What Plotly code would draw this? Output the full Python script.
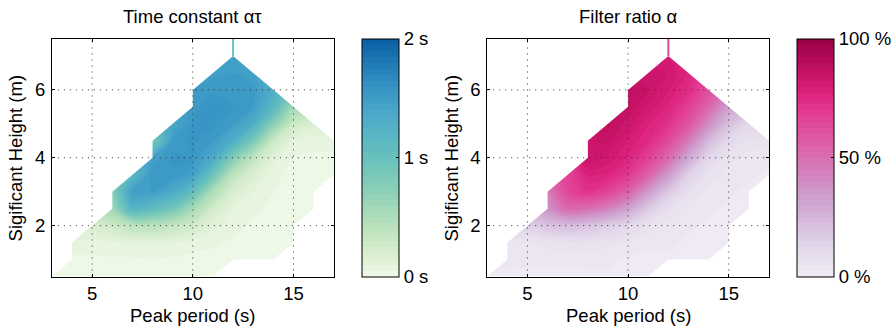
import plotly.graph_objects as go

# ---------------- data ----------------
TP = [3, 4, 5, 6, 7, 8, 9, 10, 11, 12, 13, 14, 15, 16, 17]          # Peak period (s)
HS = [0.5, 1.0, 1.5, 2.0, 2.5, 3.0, 3.5, 4.0, 4.5, 5.0, 5.5, 6.0, 6.5, 7.0, 7.5]  # Hs (m)
N = None

# Time constant alpha*tau (s); rows = HS, columns = TP
TAU = [
    [0.03, 0.03, 0.03, 0.03, 0.03, 0.03, 0.03, 0.03, 0.03, N, N, N, N, N, N],
    [N, 0.04, 0.04, 0.04, 0.04, 0.04, 0.04, 0.03, 0.03, 0.03, 0.03, 0.03, N, N, N],
    [N, 0.08, 0.08, 0.09, 0.11, 0.11, 0.10, 0.08, 0.06, 0.04, 0.03, 0.03, 0.03, N, N],
    [N, N, 0.20, 0.30, 0.40, 0.42, 0.35, 0.25, 0.12, 0.07, 0.04, 0.03, 0.03, N, N],
    [N, N, N, 0.60, 1.20, 1.08, 0.90, 0.55, 0.25, 0.10, 0.06, 0.04, 0.03, 0.03, N],
    [N, N, N, 0.75, 1.48, 1.50, 1.35, 1.05, 0.50, 0.20, 0.10, 0.05, 0.04, 0.03, N],
    [N, N, N, N, 1.15, 1.55, 1.54, 1.45, 0.95, 0.40, 0.18, 0.06, 0.04, 0.04, 0.03],
    [N, N, N, N, N, 1.45, 1.56, 1.55, 1.35, 0.80, 0.38, 0.12, 0.05, 0.04, 0.04],
    [N, N, N, N, N, 0.85, 1.52, 1.56, 1.52, 1.30, 0.85, 0.30, 0.10, 0.07, 0.07],
    [N, N, N, N, N, N, 1.40, 1.56, 1.56, 1.50, 1.30, 0.75, 0.30, 0.18, N],
    [N, N, N, N, N, N, N, 1.53, 1.58, 1.55, 1.50, 1.15, 0.60, N, N],
    [N, N, N, N, N, N, N, 1.50, 1.54, 1.55, 1.52, 1.30, N, N, N],
    [N, N, N, N, N, N, N, N, 1.48, 1.50, 1.45, N, N, N, N],
    [N, N, N, N, N, N, N, N, N, 1.44, N, N, N, N, N],
    [N, N, N, N, N, N, N, N, N, 0.55, N, N, N, N, N],
]

# Filter ratio alpha (%)
ALPHA = [
    [2, 2, 2, 2, 2, 2, 2, 2, 2, N, N, N, N, N, N],
    [N, 3, 3, 3, 3, 3, 3, 2, 2, 2, 2, 2, N, N, N],
    [N, 5, 5, 6, 7, 7, 6, 4, 3, 3, 2, 2, 2, N, N],
    [N, N, 15, 20, 22, 20, 16, 12, 7, 4, 3, 2, 2, N, N],
    [N, N, N, 38, 52, 50, 43, 32, 17, 8, 4, 3, 2, 2, N],
    [N, N, N, 45, 65, 72, 66, 55, 35, 18, 8, 4, 3, 2, N],
    [N, N, N, N, 66, 78, 77, 70, 55, 35, 15, 7, 4, 3, 2],
    [N, N, N, N, N, 85, 82, 77, 67, 52, 30, 12, 6, 4, 3],
    [N, N, N, N, N, 84, 86, 80, 75, 64, 46, 24, 11, 7, 6],
    [N, N, N, N, N, N, 88, 84, 78, 72, 60, 40, 21, 12, N],
    [N, N, N, N, N, N, N, 87, 82, 77, 68, 53, 33, N, N],
    [N, N, N, N, N, N, N, 88, 85, 80, 74, 62, N, N, N],
    [N, N, N, N, N, N, N, N, 85, 82, 77, N, N, N, N],
    [N, N, N, N, N, N, N, N, N, 81, N, N, N, N, N],
    [N, N, N, N, N, N, N, N, N, 45, N, N, N, N, N],
]

X_TICKS = [5, 10, 15]
Y_TICKS = [2, 4, 6]
TAU_CB_VALS = [0, 1, 2]
TAU_CB_TEXT = ["0 s", "1 s", "2 s"]
ALPHA_CB_VALS = [0, 50, 100]
ALPHA_CB_TEXT = ["0 %", "50 %", "100 %"]

TITLES = ["Time constant \u03b1\u03c4", "Filter ratio \u03b1"]
XTITLE = "Peak period (s)"
YTITLE = "Sigificant Height (m)"

# ---------------- styles ----------------
FONT = "Liberation Sans, Arial, Helvetica, sans-serif"
FS = 18.5
W, H = 895, 329
TAU_SCALE = [
    [0.0, "#f0f9e9"], [0.1, "#d8eed0"], [0.2, "#bde3bd"], [0.3, "#a0d7b8"],
    [0.4, "#82ccb9"], [0.5, "#68c0bc"], [0.6, "#58b4c4"], [0.7, "#4aa6c9"],
    [0.8, "#3593c4"], [0.9, "#1f79b3"], [1.0, "#0b5fa5"],
]
ALPHA_SCALE = [
    [0.0, "#f0ecf5"], [0.1, "#e6dcec"], [0.2, "#d9c3e0"], [0.3, "#d0a8d2"],
    [0.4, "#d08cc4"], [0.5, "#d96eb0"], [0.6, "#df54a0"], [0.7, "#e23890"],
    [0.8, "#d81b75"], [0.9, "#b90d5c"], [1.0, "#980043"],
]

def px_x(p):
    return p / W

def px_y(p):
    return 1 - p / H

PANELS = [
    dict(z=TAU, scale=TAU_SCALE, zmax=2.0, cbv=TAU_CB_VALS, cbt=TAU_CB_TEXT,
         xdom=[px_x(52), px_x(334.5)], cbx=px_x(362.5), ax="", ytx=px_x(16)),
    dict(z=ALPHA, scale=ALPHA_SCALE, zmax=100.0, cbv=ALPHA_CB_VALS, cbt=ALPHA_CB_TEXT,
         xdom=[px_x(488.3), px_x(770.7)], cbx=px_x(799), ax="2", ytx=px_x(453)),
]
YDOM = [px_y(276.5), px_y(39)]


def hex_to_rgb(h):
    h = h.lstrip("#")
    return [int(h[i:i + 2], 16) for i in (0, 2, 4)]


def sample(scale, t):
    t = min(max(t, 0), 1)
    for (p0, c0), (p1, c1) in zip(scale[:-1], scale[1:]):
        if p0 <= t <= p1:
            f = (t - p0) / (p1 - p0) if p1 > p0 else 0
            a, b = hex_to_rgb(c0), hex_to_rgb(c1)
            return "rgb(%d,%d,%d)" % tuple(round(a[k] + (b[k] - a[k]) * f) for k in range(3))
    return scale[-1][1]


def column_limits(z):
    lo, hi = [], []
    for j in range(len(TP)):
        vals = [HS[i] for i in range(len(HS)) if z[i][j] is not None]
        lo.append(min(vals))
        hi.append(max(vals))
    return lo, hi


def upper_boundary(hi, step):
    pts = [(TP[0], hi[0])]
    for i in range(len(TP) - 1):
        a, b = hi[i], hi[i + 1]
        if b > a:
            pts += [(TP[i + 1], a + step), (TP[i + 1], b)]
        elif b < a:
            pts += [(TP[i], b + step), (TP[i + 1], b)]
        else:
            pts += [(TP[i + 1], b)]
    return pts


def lower_boundary(lo, step):
    pts = [(TP[0], lo[0])]
    for i in range(len(TP) - 1):
        a, b = lo[i], lo[i + 1]
        if b > a:
            pts += [(TP[i], b - step), (TP[i + 1], b)]
        elif b < a:
            pts += [(TP[i + 1], a - step), (TP[i + 1], b)]
        else:
            pts += [(TP[i + 1], b)]
    return pts


fig = go.Figure()
step = HS[1] - HS[0]
shapes = []
annotations = []

for k, P in enumerate(PANELS):
    xa, ya = "x" + P["ax"], "y" + P["ax"]
    zmax = P["zmax"]
    fig.add_trace(go.Contour(
        x=TP, y=HS, z=P["z"], xaxis=xa, yaxis=ya,
        zmin=0, zmax=zmax, autocontour=False,
        contours=dict(start=0, end=zmax, size=zmax / 40, coloring="fill", showlines=False),
        line=dict(width=0), colorscale=P["scale"], hoverinfo="skip",
        colorbar=dict(
            x=P["cbx"], xanchor="left", xpad=0, ypad=0,
            y=YDOM[0], yanchor="bottom", len=YDOM[1] - YDOM[0], lenmode="fraction",
            thickness=37, thicknessmode="pixels",
            outlinecolor="black", outlinewidth=1,
            tickvals=P["cbv"], ticktext=P["cbt"], ticks="inside", ticklen=3,
            tickcolor="black", tickfont=dict(size=FS, color="black", family=FONT),
        ),
    ))

    lo, hi = column_limits(P["z"])
    up = upper_boundary(hi, step)
    up += [(TP[-1] + 1, hi[-1]), (TP[-1] + 1, HS[-1] + 2), (TP[0] - 1, HS[-1] + 2), (TP[0] - 1, hi[0])]
    dn = lower_boundary(lo, step)
    dn += [(TP[-1] + 1, lo[-1]), (TP[-1] + 1, HS[0] - 2), (TP[0] - 1, HS[0] - 2), (TP[0] - 1, lo[0])]
    for poly in (up, dn):
        fig.add_trace(go.Scatter(
            x=[p[0] for p in poly], y=[p[1] for p in poly], xaxis=xa, yaxis=ya,
            mode="lines", fill="toself", fillcolor="white", line=dict(width=0),
            hoverinfo="skip", showlegend=False,
        ))

    # isolated single-column spikes (degenerate contour patches drawn as a line)
    for j in range(1, len(TP) - 1):
        nb = max(hi[j - 1], hi[j + 1])
        if hi[j] > nb + step:
            y0 = nb + step
            ivals = [P["z"][i][j] for i in range(len(HS)) if y0 <= HS[i] <= hi[j] and P["z"][i][j] is not None]
            col = sample(P["scale"], sum(ivals) / len(ivals) / zmax)
            fig.add_trace(go.Scatter(
                x=[TP[j], TP[j]], y=[y0, hi[j]], xaxis=xa, yaxis=ya, mode="lines",
                line=dict(color=col, width=2), hoverinfo="skip", showlegend=False,
            ))

    # dotted grid on top
    for xv in X_TICKS:
        shapes.append(dict(type="line", xref=xa, yref=ya + " domain", x0=xv, x1=xv, y0=0, y1=1,
                           line=dict(color="#333333", width=1, dash="1px,5px"), layer="above"))
    for yv in Y_TICKS:
        shapes.append(dict(type="line", xref=xa + " domain", yref=ya, x0=0, x1=1, y0=yv, y1=yv,
                           line=dict(color="#333333", width=1, dash="1px,5px"), layer="above"))

    axcommon = dict(showline=True, linecolor="black", linewidth=1, mirror="ticks",
                    ticks="inside", ticklen=3, tickcolor="black", showgrid=False, zeroline=False,
                    tickfont=dict(size=FS, color="black", family=FONT))
    fig.layout["xaxis" + P["ax"]] = dict(domain=P["xdom"], range=[TP[0], TP[-1]], tickvals=X_TICKS,
                                         anchor=ya, ticklabelstandoff=0, **axcommon)
    fig.layout["yaxis" + P["ax"]] = dict(domain=YDOM, range=[HS[0], HS[-1]], tickvals=Y_TICKS,
                                         anchor=xa, ticklabelstandoff=2, **axcommon)

    xc = (P["xdom"][0] + P["xdom"][1]) / 2
    annotations.append(dict(text=TITLES[k], x=xc, y=px_y(16.5), xref="paper", yref="paper",
                            showarrow=False, xanchor="center", yanchor="middle",
                            font=dict(size=FS, color="black", family=FONT)))
    annotations.append(dict(text=XTITLE, x=xc, y=px_y(315), xref="paper", yref="paper",
                            showarrow=False, xanchor="center", yanchor="middle",
                            font=dict(size=FS, color="black", family=FONT)))
    annotations.append(dict(text=YTITLE, x=P["ytx"], y=px_y(157.5), xref="paper", yref="paper",
                            showarrow=False, xanchor="center", yanchor="middle", textangle=-90,
                            font=dict(size=FS, color="black", family=FONT)))

fig.update_layout(
    width=W, height=H, margin=dict(l=0, r=0, t=0, b=0),
    paper_bgcolor="white", plot_bgcolor="white", showlegend=False,
    shapes=shapes, annotations=annotations, font=dict(family=FONT, color="black"),
)

fig.write_html(
    "out.html",
    config={"displayModeBar": False},
    post_script="document.body.style.margin='0px';document.body.style.padding='0px';"
                "document.body.style.overflow='hidden';",
)
